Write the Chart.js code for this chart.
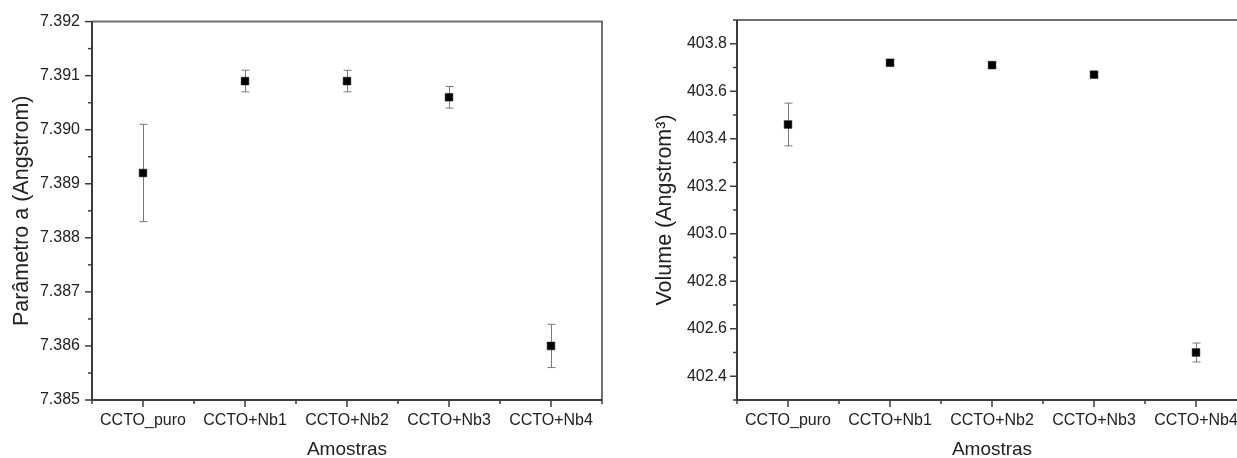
<!DOCTYPE html>
<html>
<head>
<meta charset="utf-8">
<script src="https://cdn.jsdelivr.net/npm/chart.js@4.4.1/dist/chart.umd.min.js"></script>
<style>
  html, body { margin: 0; padding: 0; background: #fff; overflow: hidden; width: 1237px; height: 458px; }
  canvas { position: absolute; top: 0; }
  #cA { left: 0; }
  #cV { left: 640px; }
</style>
</head>
<body>
<canvas id="cA" width="620" height="458"></canvas>
<canvas id="cV" width="620" height="458"></canvas>
<script>
// Amostras e resultados do refinamento
const amostras = ['CCTO_puro', 'CCTO+Nb1', 'CCTO+Nb2', 'CCTO+Nb3', 'CCTO+Nb4'];

const parametroA = [7.3892, 7.3909, 7.3909, 7.3906, 7.3860];
const erroA      = [0.0009, 0.0002, 0.0002, 0.0002, 0.0004];
const ticksA     = [7.385, 7.386, 7.387, 7.388, 7.389, 7.390, 7.391, 7.392];

const volume = [403.46, 403.72, 403.71, 403.67, 402.50];
const erroV  = [0.09, 0.01, 0.01, 0.01, 0.04];
const ticksV = [402.4, 402.6, 402.8, 403.0, 403.2, 403.4, 403.6, 403.8];

const FONTE = "'Liberation Sans', Arial, sans-serif";
const COR_TEXTO = '#222';

// Eixos desenhados à mão: moldura, marcas maiores/menores e barras de erro
const moldura = {
  id: 'moldura',
  beforeDatasetsDraw(chart, args, opts) {
    const { ctx } = chart;
    const x = chart.scales.x, y = chart.scales.y;
    const pts = chart.data.datasets[0].data;
    ctx.save();
    ctx.strokeStyle = '#7a7a7a';
    ctx.lineWidth = 1;
    pts.forEach((p, i) => {
      const e = opts.erro[i];
      const px = Math.round(x.getPixelForValue(p.x)) + 0.5;
      const yt = y.getPixelForValue(p.y + e);
      const yb = y.getPixelForValue(p.y - e);
      ctx.beginPath();
      ctx.moveTo(px, yt); ctx.lineTo(px, yb);
      ctx.moveTo(px - 4, yt); ctx.lineTo(px + 4, yt);
      ctx.moveTo(px - 4, yb); ctx.lineTo(px + 4, yb);
      ctx.stroke();
    });
    ctx.restore();
  },
  afterDraw(chart, args, opts) {
    const { ctx, chartArea: a } = chart;
    const x = chart.scales.x, y = chart.scales.y;
    ctx.save();
    // topo e direita
    ctx.strokeStyle = '#707070';
    ctx.lineWidth = 2;
    ctx.beginPath();
    ctx.moveTo(a.left, a.top); ctx.lineTo(a.right, a.top); ctx.lineTo(a.right, a.bottom);
    ctx.stroke();
    // eixos principais
    ctx.strokeStyle = '#3c3c3c';
    ctx.beginPath();
    ctx.moveTo(a.left, a.top); ctx.lineTo(a.left, a.bottom); ctx.lineTo(a.right, a.bottom);
    ctx.stroke();

    ctx.lineWidth = 1.5;
    // marcas no eixo y
    const maiores = opts.ticksY;
    const meio = (maiores[1] - maiores[0]) / 2;
    const eps = meio * 1e-3;
    maiores.forEach(v => {
      const py = y.getPixelForValue(v);
      ctx.beginPath(); ctx.moveTo(a.left, py); ctx.lineTo(a.left - 7, py); ctx.stroke();
    });
    const menores = maiores.map(v => v - meio).concat([maiores[maiores.length - 1] + meio]);
    menores.filter(v => v >= y.min - eps && v <= y.max + eps).forEach(v => {
      const py = y.getPixelForValue(v);
      ctx.beginPath(); ctx.moveTo(a.left, py); ctx.lineTo(a.left - 4, py); ctx.stroke();
    });
    // marcas no eixo x
    amostras.forEach((_, i) => {
      const px = x.getPixelForValue(i + 1);
      ctx.beginPath(); ctx.moveTo(px, a.bottom); ctx.lineTo(px, a.bottom + 7); ctx.stroke();
    });
    for (let k = 0; k <= amostras.length; k++) {
      const px = x.getPixelForValue(k + 0.5);
      ctx.beginPath(); ctx.moveTo(px, a.bottom); ctx.lineTo(px, a.bottom + 4); ctx.stroke();
    }
    ctx.restore();
  }
};

function grafico(id, valores, erros, ticksY, casas, tituloY, larguraY, padTitulo, padTicks, padDireita) {
  const dados = valores.map((v, i) => ({ x: i + 1, y: v }));
  return new Chart(document.getElementById(id), {
    type: 'scatter',
    data: {
      datasets: [{
        data: dados,
        pointStyle: 'rect',
        pointRadius: 5.4,
        pointBorderWidth: 0.5,
        backgroundColor: '#000',
        borderColor: '#000'
      }]
    },
    options: {
      responsive: false,
      animation: false,
      layout: { padding: { top: 20, right: padDireita, left: 0, bottom: 0 } },
      plugins: {
        legend: { display: false },
        tooltip: { enabled: false },
        moldura: { erro: erros, ticksY: ticksY }
      },
      scales: {
        x: {
          type: 'linear',
          min: 0.5,
          max: amostras.length + 0.5,
          grid: { display: false, drawTicks: false },
          border: { display: false },
          afterBuildTicks: s => { s.ticks = amostras.map((_, i) => ({ value: i + 1 })); },
          afterFit: s => { s.height = 58; },
          ticks: {
            autoSkip: false,
            maxRotation: 0,
            padding: 11,
            color: COR_TEXTO,
            font: { family: FONTE, size: 16 },
            callback: v => amostras[Math.round(v) - 1]
          },
          title: {
            display: true,
            text: 'Amostras',
            color: COR_TEXTO,
            font: { family: FONTE, size: 19, lineHeight: 0.9 },
            padding: { top: 0, bottom: 0 }
          }
        },
        y: {
          min: ticksY[0] - (casas === 3 ? 0 : 0.1),
          max: ticksY[ticksY.length - 1] + (casas === 3 ? 0 : 0.1),
          grid: { display: false, drawTicks: false },
          border: { display: false },
          afterBuildTicks: s => { s.ticks = ticksY.map(v => ({ value: v })); },
          afterFit: s => { s.width = larguraY; },
          ticks: {
            padding: padTicks,
            color: COR_TEXTO,
            font: { family: FONTE, size: 16 },
            callback: v => Number(v).toFixed(casas)
          },
          title: {
            display: true,
            text: tituloY,
            color: COR_TEXTO,
            font: { family: FONTE, size: 21.5, lineHeight: 1 },
            padding: { top: padTitulo, bottom: 0 }
          }
        }
      }
    },
    plugins: [moldura]
  });
}

grafico('cA', parametroA, erroA, ticksA, 3, 'Parâmetro a (Angstrom)', 92, 11, 12, 18);
grafico('cV', volume, erroV, ticksV, 1, 'Volume (Angstrom³)', 97, 14, 10, 13);
</script>
</body>
</html>
